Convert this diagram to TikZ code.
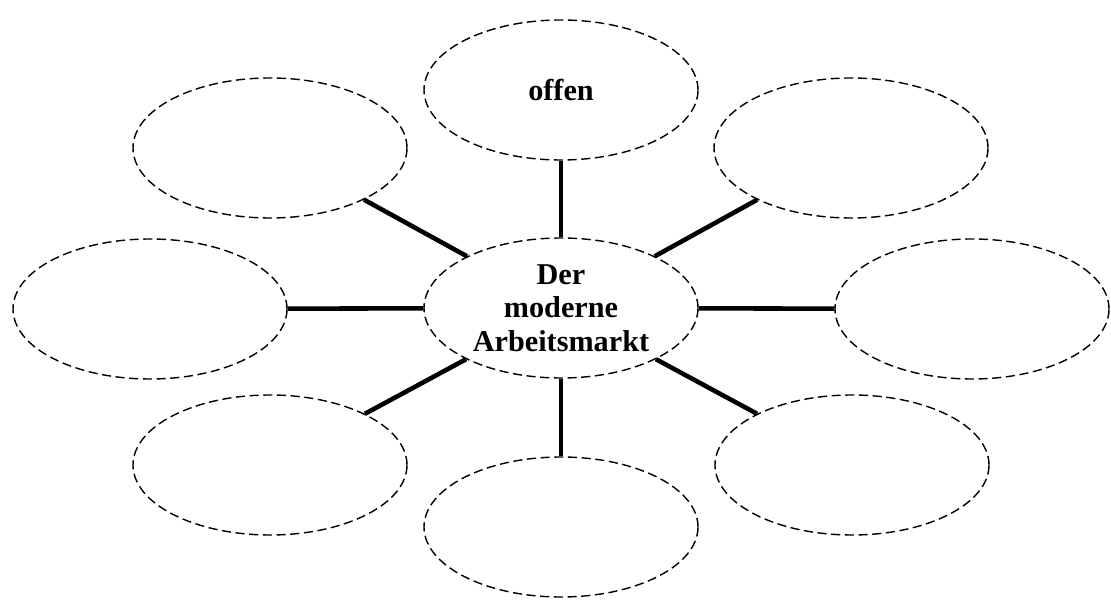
\documentclass[tikz,border=0pt]{standalone}
\usepackage{fontspec}
\setmainfont{Liberation Serif}
\usetikzlibrary{shapes.geometric}
\tikzset{
  bubble/.style={ellipse, draw, line width=0.4pt, dash pattern=on 2.6pt off 1.3pt,
    minimum width=2.74cm, minimum height=1.40cm, inner sep=0pt, align=center,
    font=\fontsize{8.6}{9.5}\selectfont\bfseries},
  spoke/.style={line width=1.3pt}
}
\begin{document}
\begin{tikzpicture}
        \useasboundingbox (0, 0) rectangle (11.11, -6.01);
        \node [bubble] (C) at (5.61, -3.08) {Der\\moderne\\Arbeitsmarkt}; 
        \node [bubble] (T) at (5.61, -0.90) {offen}; 
        \node [bubble] (TL) at (2.70, -1.48) {}; 
        \node [bubble] (L) at (1.50, -3.09) {}; 
        \node [bubble] (BL) at (2.70, -4.65) {}; 
        \node [bubble] (B) at (5.61, -5.27) {}; 
        \node [bubble] (BR) at (8.52, -4.65) {}; 
        \node [bubble] (R) at (9.72, -3.09) {}; 
        \node [bubble] (TR) at (8.51, -1.48) {}; 
        \draw [spoke] (C) -- (T); 
        \draw [spoke] (C) -- (TL); 
        \draw [spoke] (C) -- (L); 
        \draw [spoke] (C) -- (BL); 
        \draw [spoke] (C) -- (B); 
        \draw [spoke] (C) -- (BR); 
        \draw [spoke] (C) -- (R); 
        \draw [spoke] (C) -- (TR); 
\end{tikzpicture}
\end{document}
